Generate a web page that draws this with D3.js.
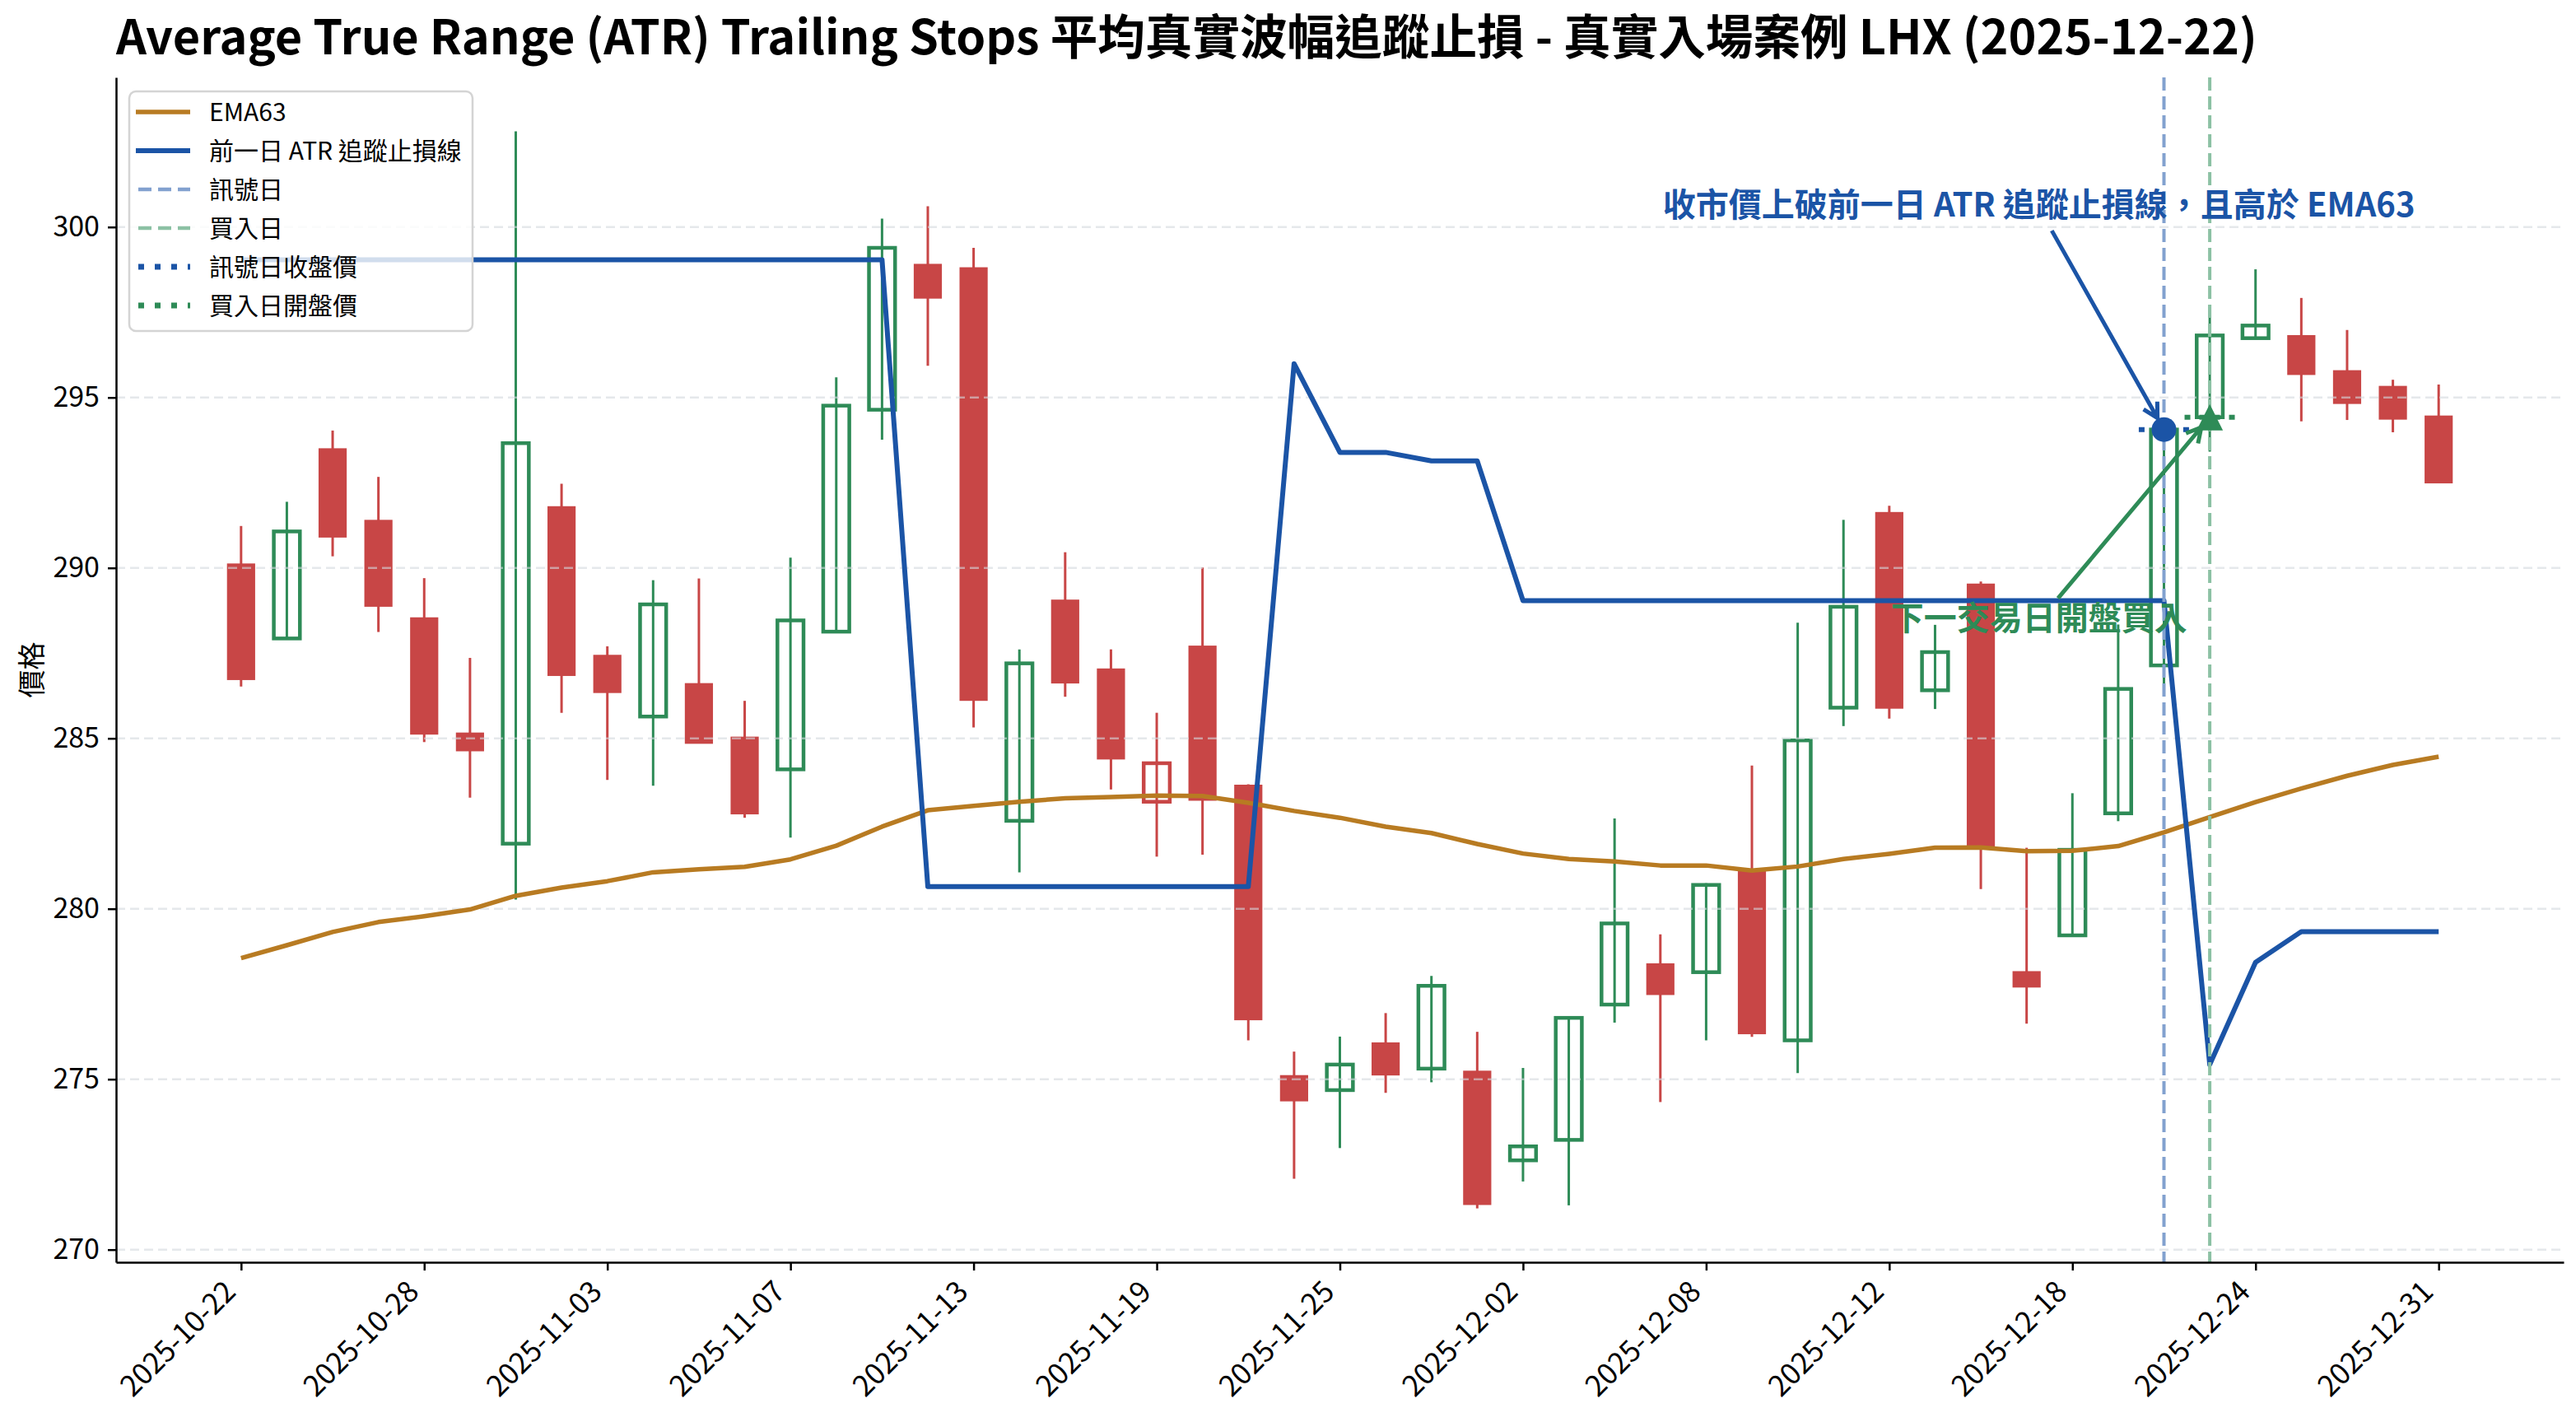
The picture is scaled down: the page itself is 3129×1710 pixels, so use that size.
<!DOCTYPE html>
<html lang="zh-Hant-TW">
<head>
<meta charset="utf-8">
<script src="https://d3js.org/d3.v7.min.js"></script>
<style>
body { margin: 0; background: #fff; }
text { font-family: "Noto Sans CJK TC", "Noto Sans", sans-serif; }
</style>
</head>
<body>
<script>
//Data
var dates = ["2025-10-22","2025-10-23","2025-10-24","2025-10-27","2025-10-28","2025-10-29","2025-10-30","2025-10-31",
             "2025-11-03","2025-11-04","2025-11-05","2025-11-06","2025-11-07","2025-11-10","2025-11-11","2025-11-12",
             "2025-11-13","2025-11-14","2025-11-17","2025-11-18","2025-11-19","2025-11-20","2025-11-21","2025-11-24",
             "2025-11-25","2025-11-26","2025-11-28","2025-12-01","2025-12-02","2025-12-03","2025-12-04","2025-12-05",
             "2025-12-08","2025-12-09","2025-12-10","2025-12-11","2025-12-12","2025-12-15","2025-12-16","2025-12-17",
             "2025-12-18","2025-12-19","2025-12-22","2025-12-23","2025-12-24","2025-12-26","2025-12-29","2025-12-30",
             "2025-12-31"];
var opens  = [290.10, 287.93, 293.48, 291.38, 288.52, 285.14, 281.91, 291.78, 287.42, 285.64, 286.59, 285.02, 284.09,
              288.13, 294.64, 298.89, 298.79, 282.58, 289.04, 287.02, 283.14, 287.69, 283.61, 275.09, 274.68, 276.05,
              275.31, 275.22, 272.62, 273.22, 277.19, 278.37, 278.14, 281.09, 276.14, 285.90, 291.61, 286.41, 289.51,
              278.14, 279.22, 282.80, 287.14, 294.42, 296.74, 296.80, 295.77, 295.31, 294.44];
var highs  = [291.23, 291.94, 294.03, 292.67, 289.70, 287.36, 302.81, 292.47, 287.70, 289.64, 289.69, 286.10, 290.30,
              295.59, 300.25, 300.61, 299.39, 287.61, 290.46, 287.61, 285.75, 290.01, 283.65, 275.81, 276.25, 276.94,
              278.03, 276.39, 275.33, 276.80, 282.65, 279.25, 280.75, 284.20, 288.39, 291.41, 291.82, 288.33, 289.60,
              281.79, 283.39, 288.34, 294.40, 297.71, 298.76, 297.92, 296.98, 295.52, 295.38];
var lows   = [286.52, 287.93, 290.34, 288.12, 284.89, 283.26, 280.27, 285.75, 283.78, 283.61, 284.85, 282.67, 282.09,
              288.10, 293.76, 295.93, 285.32, 281.07, 286.22, 283.50, 281.53, 281.59, 276.14, 272.08, 272.98, 274.60,
              274.91, 271.21, 272.00, 271.30, 276.66, 274.33, 276.14, 276.24, 275.18, 285.36, 285.58, 285.86, 280.58,
              276.63, 279.22, 282.57, 286.56, 293.41, 296.74, 294.30, 294.34, 293.98, 292.51];
var closes = [286.74, 291.07, 290.92, 288.89, 285.14, 284.65, 293.66, 286.86, 286.36, 288.93, 284.87, 282.80, 288.46,
              294.76, 299.39, 297.93, 286.13, 287.20, 286.64, 284.41, 284.27, 283.20, 276.76, 274.38, 275.43, 275.14,
              277.74, 271.34, 273.03, 276.80, 279.57, 277.50, 280.70, 276.35, 284.94, 288.86, 285.90, 287.53, 281.82,
              277.72, 281.73, 286.45, 294.06, 296.82, 297.11, 295.69, 294.84, 294.38, 292.51];
var ema63  = [278.55, 278.93, 279.32, 279.61, 279.78, 279.98, 280.38, 280.62, 280.81, 281.07, 281.16, 281.23, 281.45,
              281.85, 282.41, 282.89, 283.02, 283.14, 283.24, 283.28, 283.32, 283.31, 283.11, 282.87, 282.67, 282.41,
              282.22, 281.90, 281.62, 281.46, 281.39, 281.27, 281.27, 281.12, 281.24, 281.46, 281.61, 281.79, 281.80,
              281.69, 281.70, 281.84, 282.24, 282.69, 283.13, 283.53, 283.90, 284.22, 284.46];
var atrStop = [299.04, 299.04, 299.04, 299.04, 299.04, 299.04, 299.04, 299.04, 299.04, 299.04, 299.04, 299.04, 299.04,
               299.04, 299.04, 280.65, 280.65, 280.65, 280.65, 280.65, 280.65, 280.65, 280.65, 295.99, 293.39, 293.39,
               293.14, 293.14, 289.04, 289.04, 289.04, 289.04, 289.04, 289.04, 289.04, 289.04, 289.04, 289.04, 289.04,
               289.04, 289.04, 289.04, 289.04, 275.43, 278.43, 279.33, 279.33, 279.33, 279.33];
var yTicks = [270, 275, 280, 285, 290, 295, 300];
var xTickIdx = [0, 4, 8, 12, 16, 20, 24, 28, 32, 36, 40, 44, 48];
var signalIdx = 42;
var buyIdx = 43;

//Texts
var titleText = "Average True Range (ATR) Trailing Stops 平均真實波幅追蹤止損 - 真實入場案例 LHX (2025-12-22)";
var yLabel = "價格";
var noteSignal = "收市價上破前一日 ATR 追蹤止損線，且高於 EMA63";
var noteBuy = "下一交易日開盤買入";
var legendLabels = ["EMA63", "前一日 ATR 追蹤止損線", "訊號日", "買入日", "訊號日收盤價", "買入日開盤價"];

//Config
var width = 3129, height = 1710;
var plot = {left: 141, right: 3114, top: 94, bottom: 1533};
var upColor = "#2e8b57";
var downColor = "#c84646";
var emaColor = "#b87b22";
var atrColor = "#1b54a6";
var signalLineColor = "#82a1cf";
var buyLineColor = "#8cc1a4";

var svg = d3.select("body").append("svg")
            .attr("width", width)
            .attr("height", height);

//scales: bars on an index axis, 5% margins like the source plot
var n = dates.length;
var xPad = 0.05 * (n - 1 + 0.6);
var x = d3.scaleLinear()
          .domain([-0.3 - xPad, n - 1 + 0.3 + xPad])
          .range([plot.left, plot.right]);
var lo = d3.min(lows), hi = d3.max(highs);
var yPad = 0.05 * (hi - lo);
var y = d3.scaleLinear()
          .domain([lo - yPad, hi + yPad])
          .range([plot.bottom, plot.top]);
var step = x(1) - x(0);
var bodyWidth = 0.57 * step;

//candles: hollow when close > open, colour against previous close
var candles = svg.append("g").selectAll("g")
                .data(dates)
                .join("g")
                .each(function(d, i) {
                    var g = d3.select(this);
                    var o = opens[i], c = closes[i];
                    var up = i == 0 ? c >= o : c >= closes[i - 1];
                    var col = up ? upColor : downColor;
                    var hollow = c > o;
                    g.append("line")
                        .attr("x1", x(i)).attr("x2", x(i))
                        .attr("y1", y(highs[i])).attr("y2", y(lows[i]))
                        .style("stroke", col)
                        .style("stroke-width", 3);
                    g.append("rect")
                        .attr("x", x(i) - bodyWidth / 2)
                        .attr("y", y(Math.max(o, c)))
                        .attr("width", bodyWidth)
                        .attr("height", Math.max(1, Math.abs(y(o) - y(c))))
                        .style("fill", hollow ? "none" : col)
                        .style("stroke", col)
                        .style("stroke-width", hollow ? 4.5 : 2.5);
                });

//horizontal grid
svg.append("g").selectAll("line")
    .data(yTicks)
    .join("line")
    .attr("x1", plot.left).attr("x2", plot.right)
    .attr("y1", function(d) { return y(d); })
    .attr("y2", function(d) { return y(d); })
    .style("stroke", "#d4d8de")
    .style("stroke-opacity", 0.6)
    .style("stroke-width", 2.5)
    .style("stroke-dasharray", "11,6");

//EMA63 and previous-day ATR trailing stop
var line = d3.line()
            .x(function(d, i) { return x(i); })
            .y(function(d) { return y(d); });

svg.append("path")
    .attr("d", line(ema63))
    .style("fill", "none")
    .style("stroke", emaColor)
    .style("stroke-width", 5.5)
    .style("stroke-linejoin", "round");

svg.append("path")
    .attr("d", line(atrStop))
    .style("fill", "none")
    .style("stroke", atrColor)
    .style("stroke-width", 6)
    .style("stroke-linejoin", "round");

//signal day / buy day markers
[[signalIdx, signalLineColor], [buyIdx, buyLineColor]].forEach(function(v) {
    svg.append("line")
        .attr("x1", x(v[0])).attr("x2", x(v[0]))
        .attr("y1", plot.top).attr("y2", plot.bottom)
        .style("stroke", v[1])
        .style("stroke-width", 4)
        .style("stroke-dasharray", "16,7");
});

[[signalIdx, closes[signalIdx], atrColor], [buyIdx, opens[buyIdx], upColor]].forEach(function(v) {
    svg.append("line")
        .attr("x1", x(v[0] - 0.55)).attr("x2", x(v[0] + 0.55))
        .attr("y1", y(v[1])).attr("y2", y(v[1]))
        .style("stroke", v[2])
        .style("stroke-width", 6)
        .style("stroke-dasharray", "7,11");
});

var sigX = x(signalIdx), sigY = y(closes[signalIdx]);
var buyX = x(buyIdx), buyY = y(opens[buyIdx]);

svg.append("circle")
    .attr("cx", sigX).attr("cy", sigY).attr("r", 15)
    .style("fill", atrColor);

svg.append("path")
    .attr("d", "M" + buyX + "," + (buyY - 16) + "L" + (buyX + 16) + "," + (buyY + 16) + "L" + (buyX - 16) + "," + (buyY + 16) + "Z")
    .style("fill", upColor);

//annotations with arrows
var noteSize = 40;
var noteX = 39.27;
var notes = [
    {text: noteSignal, price: 300.31, color: atrColor, tx: sigX, ty: sigY},
    {text: noteBuy, price: 288.19, color: upColor, tx: buyX, ty: buyY}
];

notes.forEach(function(nt) {
    var t = svg.append("text")
                .attr("x", x(noteX))
                .attr("y", y(nt.price))
                .attr("text-anchor", "middle")
                .style("font-size", noteSize + "px")
                .style("font-weight", 700)
                .style("fill", nt.color)
                .text(nt.text);
    var w = t.node().getComputedTextLength();
    var cx = x(noteX), base = y(nt.price);
    var top = base - 0.95 * noteSize, bot = base + 0.43 * noteSize;
    var cy = (top + bot) / 2;
    var dx = nt.tx - cx, dy = nt.ty - cy;
    var s = Math.min((w / 2) / Math.abs(dx), ((bot - top) / 2) / Math.abs(dy));
    var x1 = cx + dx * s, y1 = cy + dy * s;
    var len = Math.sqrt((nt.tx - x1) * (nt.tx - x1) + (nt.ty - y1) * (nt.ty - y1));
    var ux = (nt.tx - x1) / len, uy = (nt.ty - y1) / len;
    var x2 = nt.tx - ux * 16, y2 = nt.ty - uy * 16;
    var head = 20, ang = 0.5;
    var a = Math.atan2(uy, ux);
    svg.append("path")
        .attr("d", "M" + x1 + "," + y1 + "L" + x2 + "," + y2 +
                   "M" + (x2 - head * Math.cos(a - ang)) + "," + (y2 - head * Math.sin(a - ang)) +
                   "L" + x2 + "," + y2 +
                   "L" + (x2 - head * Math.cos(a + ang)) + "," + (y2 - head * Math.sin(a + ang)))
        .style("fill", "none")
        .style("stroke", nt.color)
        .style("stroke-width", 5)
        .style("stroke-linejoin", "miter");
});

//axes
var yAxis = svg.append("g")
                .attr("transform", "translate(" + plot.left + ",0)")
                .call(d3.axisLeft(y).tickValues(yTicks).tickSize(10).tickSizeOuter(0).tickPadding(10));
yAxis.attr("font-size", 34);
yAxis.selectAll("text").style("fill", "#000");

var xAxis = svg.append("g")
                .attr("transform", "translate(0," + plot.bottom + ")")
                .call(d3.axisBottom(x).tickValues(xTickIdx).tickSize(10).tickSizeOuter(0)
                        .tickFormat(function(i) { return dates[i]; }));
xAxis.attr("font-size", 35);
xAxis.selectAll("text")
    .attr("y", 0).attr("dy", 0)
    .attr("text-anchor", "end")
    .attr("transform", "translate(-5,38) rotate(-45)")
    .style("fill", "#000");

svg.selectAll(".domain").style("stroke", "#000").style("stroke-width", 2.5);
svg.selectAll(".tick line").style("stroke", "#000").style("stroke-width", 2.5);

svg.append("text")
    .attr("transform", "translate(51," + ((plot.top + plot.bottom) / 2) + ") rotate(-90)")
    .attr("text-anchor", "middle")
    .style("font-size", "34px")
    .text(yLabel);

//title
svg.append("text")
    .attr("x", plot.left)
    .attr("y", 66)
    .style("font-size", "57.6px")
    .style("font-weight", 700)
    .text(titleText);

//legend
var legend = svg.append("g");
legend.append("rect")
    .attr("x", 157).attr("y", 111)
    .attr("width", 417).attr("height", 291)
    .attr("rx", 8)
    .style("fill", "#fff")
    .style("fill-opacity", 0.8)
    .style("stroke", "#d4d4d4")
    .style("stroke-width", 2.5);

var handles = [
    {color: emaColor, w: 5.5, dash: null},
    {color: atrColor, w: 6, dash: null},
    {color: signalLineColor, w: 4.5, dash: "16,8"},
    {color: buyLineColor, w: 4.5, dash: "16,8"},
    {color: atrColor, w: 7, dash: "7,13"},
    {color: upColor, w: 7, dash: "7,13"}
];

legend.selectAll("g")
    .data(legendLabels)
    .join("g")
    .attr("transform", function(d, i) { return "translate(0," + (136 + i * 47) + ")"; })
    .each(function(d, i) {
        var g = d3.select(this);
        var h = handles[i];
        g.append("line")
            .attr("x1", h.dash ? 168 : 165).attr("x2", 231)
            .style("stroke", h.color)
            .style("stroke-width", h.w)
            .style("stroke-dasharray", h.dash);
        g.append("text")
            .attr("x", 254).attr("y", 11)
            .style("font-size", "30px")
            .text(d);
    });
</script>
</body>
</html>
